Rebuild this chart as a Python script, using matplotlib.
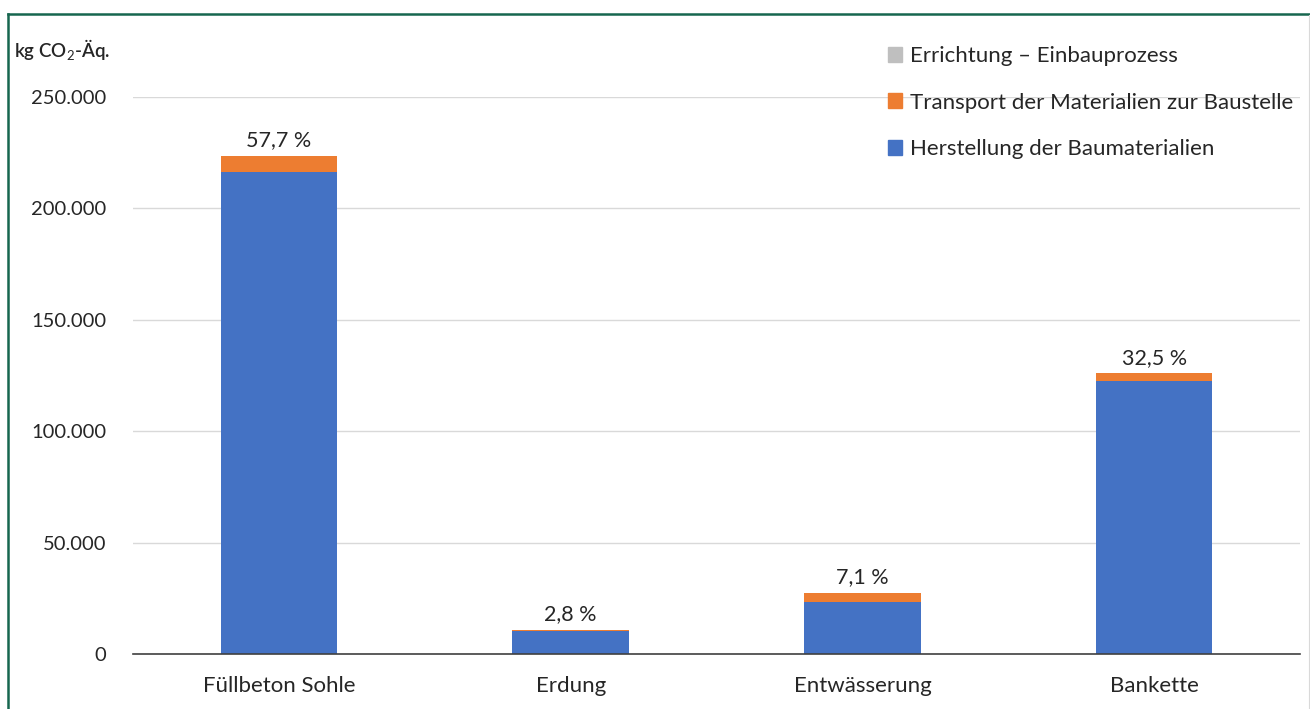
import numpy as np
import matplotlib.pyplot as plt
from matplotlib.patches import Patch
from matplotlib.lines import Line2D

plt.rcParams['font.family'] = ['Lato', 'DejaVu Sans']
plt.rcParams['mathtext.fontset'] = 'custom'
plt.rcParams['mathtext.rm'] = 'Lato'

categories = ['Füllbeton Sohle', 'Erdung', 'Entwässerung', 'Bankette']
herstellung = [216400, 10350, 23200, 122700]
transport = [7300, 500, 4300, 3200]
errichtung = [0, 0, 0, 0]
series_names = ['Herstellung der Baumaterialien',
                'Transport der Materialien zur Baustelle',
                'Errichtung – Einbauprozess']

BLUE = '#4472C4'
ORANGE = '#ED7D31'
GREY = '#BFBFBF'
TXT = '#262626'

fig = plt.figure(figsize=(13.1, 7.09), dpi=100)
ax = fig.add_axes([133/1310, 55/709, (1300-133)/1310, (654-97)/709])

x = np.arange(len(categories))
w = 0.4
h = np.array(herstellung)
t = np.array(transport)
e = np.array(errichtung)
ax.bar(x, h, w, color=BLUE, zorder=3)
ax.bar(x, t, w, bottom=h, color=ORANGE, zorder=3)
ax.bar(x, e, w, bottom=h + t, color=GREY, zorder=3)

totals = h + t + e
share = totals / totals.sum() * 100
for xi, tot, p in zip(x, totals, share):
    ax.annotate(f'{p:.1f} %'.replace('.', ','), (xi, tot), xytext=(0, 4),
                textcoords='offset points', ha='center', va='bottom',
                fontsize=15.5, color=TXT)

ax.set_xlim(-0.5, len(categories) - 0.5)
ax.set_ylim(0, 250000)
ax.set_yticks(np.arange(0, 250001, 50000))
ax.set_yticklabels([f'{v:,}'.replace(',', '.') for v in range(0, 250001, 50000)])
ax.set_xticks(x)
ax.set_xticklabels(categories)
ax.tick_params(axis='y', length=0, pad=19, labelsize=14.5, labelcolor=TXT)
ax.tick_params(axis='x', length=0, pad=16, labelsize=16, labelcolor=TXT)
ax.grid(axis='y', color='#d9d9d9', lw=1, zorder=0)
for s in ['top', 'right', 'left']:
    ax.spines[s].set_visible(False)
ax.spines['bottom'].set_color('#404040')
ax.spines['bottom'].set_linewidth(1.2)
ax.spines['bottom'].set_zorder(4)

fig.text(14/1310, 1 - 50/709, 'kg CO$_2$-Äq.', fontsize=13.5, fontweight='semibold',
         color=TXT, va='center', ha='left')

handles = [Patch(color=GREY), Patch(color=ORANGE), Patch(color=BLUE)]
fig.legend(handles, series_names[::-1], loc='upper left',
           bbox_to_anchor=(868/1310, 1 - 26/709), frameon=False, fontsize=16,
           handlelength=0.65, handleheight=0.65, handletextpad=0.35,
           labelspacing=1.2, labelcolor=TXT)

# frame lines around the figure
green = '#17664f'
fig.add_artist(Line2D([8/1310, 8/1310], [0, 1 - 14/709], color=green, lw=1.8))
fig.add_artist(Line2D([8/1310, 1], [1 - 14/709, 1 - 14/709], color=green, lw=1.8))
fig.add_artist(Line2D([1309/1310, 1309/1310], [0, 1 - 15/709], color='#d9d9d9', lw=0.8))

fig.savefig('out.png', dpi=100)
